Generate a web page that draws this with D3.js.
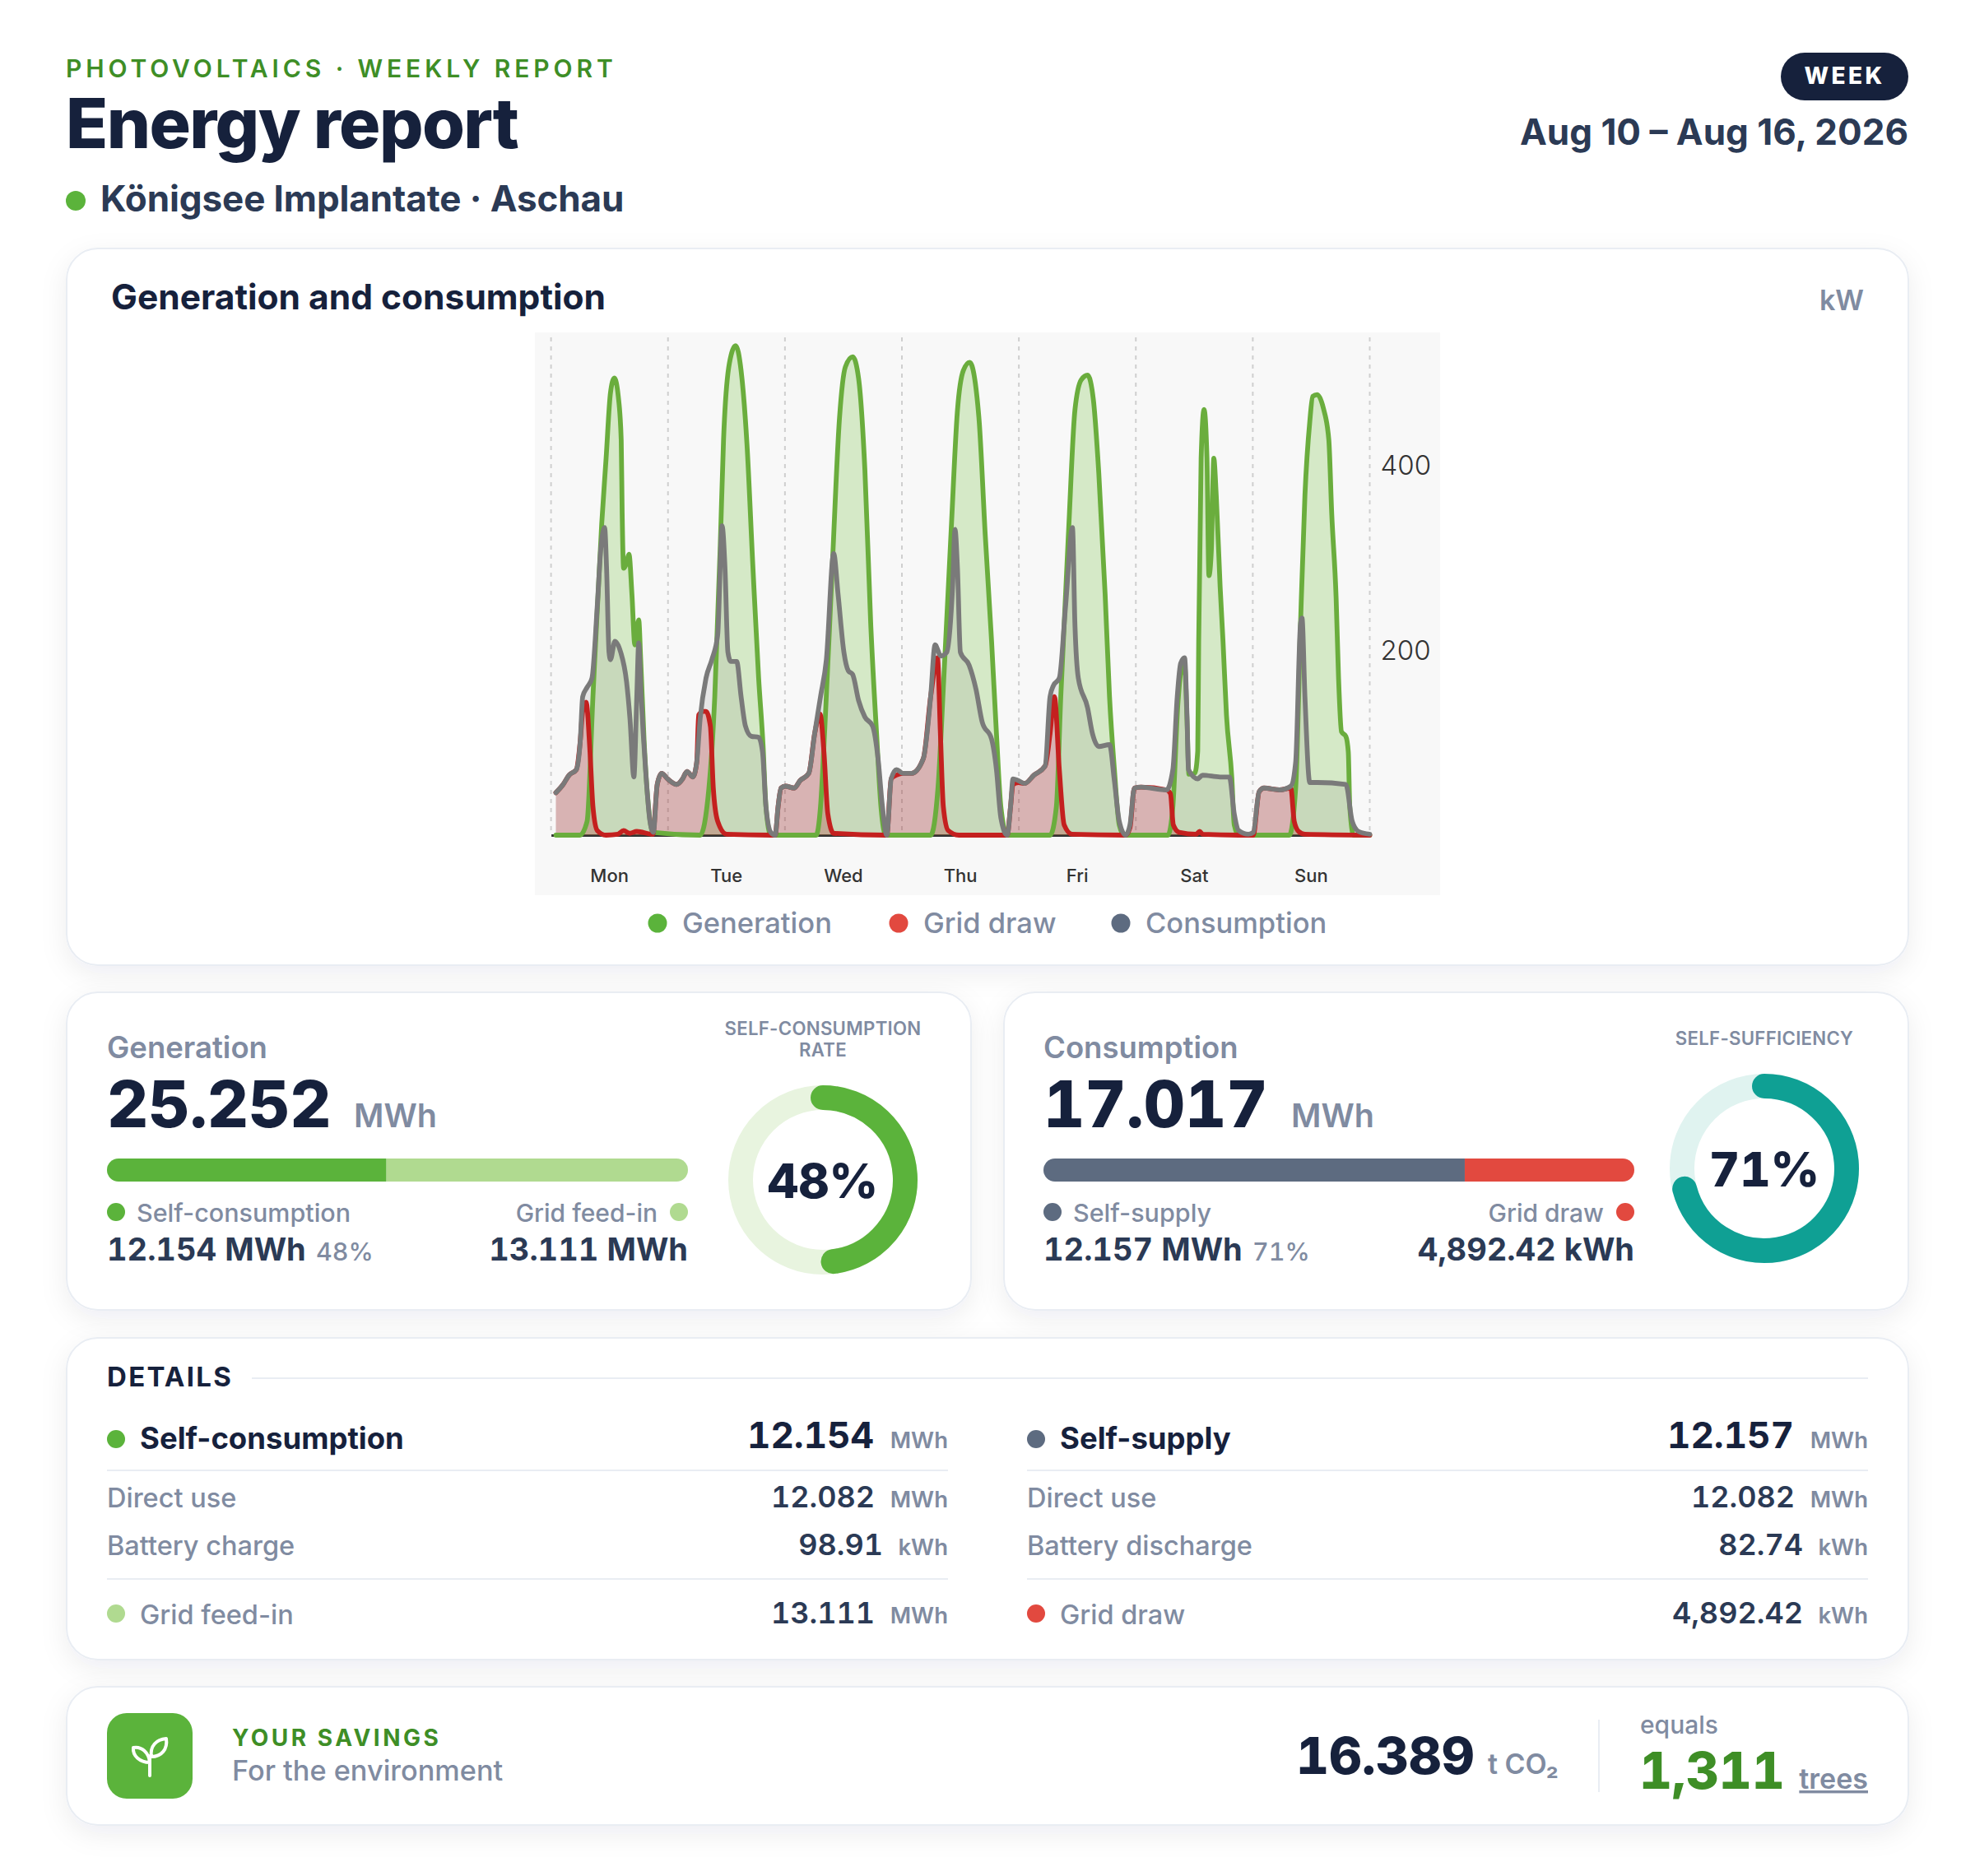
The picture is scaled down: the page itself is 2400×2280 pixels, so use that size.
<!DOCTYPE html>
<head>
<meta charset="utf-8">
<script src="https://d3js.org/d3.v7.min.js"></script>
<style>
  html, body { margin: 0; background: #fff; }
  svg { display: block; font-family: Inter, sans-serif; }
</style>
</head>
<body>
<svg width="2400" height="2280"></svg>
<script>

// hours since Monday 00:00
const genHours = [1,5.9,7.4,8.6,10.4,11.3,12.2,13,13.8,14.4,14.6,14.9,15.4,16,16.6,17.2,18,18.4,19.1,20,20.9,
  30.6,32.4,33.6,34.7,35.4,36.6,37.9,39,40.2,41.4,42.6,43.5,44.1,45.1,
  54.4,55.3,56.2,57.7,59.2,60.4,61.9,63.1,64.4,65.6,66.8,67.7,68.7,
  77.9,79.4,80.6,82.1,83.4,84.6,85.9,87.8,89.1,90.4,91.4,92.3,93.6,
  102.4,103.7,104.6,106.2,107.5,108.8,110.1,111.3,112.4,113.7,114.6,115.6,116.6,117.6,
  126.6,127.6,128.6,129.3,130,130.5,130.9,132.1,132.7,132.9,133.4,134,134.6,135,135.5,136,136.5,137.3,137.9,138.6,139.7,140.2,141.1,
  151.5,152.8,153.8,154.7,155.7,156.3,157.2,158.5,159.6,160.2,161.1,161.6,162.2,163.1,163.6,163.9,164.7,168];
const genKw = [0,0,15,150,337,408,479,495,475,428,348,289,293,304,261,206,233,190,102,31,3,
  0,51,150,309,428,511,530,503,424,293,170,98,31,0,
  0,31,118,289,452,507,518,495,396,229,110,31,0,
  0,51,170,329,460,503,512,452,325,210,110,31,0,
  0,31,150,329,460,493,498,471,392,261,150,71,11,0,
  0,31,140,178,185,125,66,67,91,209,408,461,408,281,309,408,368,269,209,130,62,11,0,
  0,51,229,368,448,475,477,462,428,348,257,170,112,107,90,31,0,0];

const drawHours = [1,2.5,3.7,5.2,6,6.5,7.2,8,8.6,9.5,11.3,13.7,14.9,16.1,17.6,20.9,
  21.8,22.7,23.9,25.8,27,27.9,29.1,29.9,30.3,31.2,31.8,32.7,33.3,34.2,36,45.1,46,
  46.6,47.2,48.1,49.9,51.1,52.9,54.1,55.2,56,56.8,58,68.7,68.9,
  69.8,70.9,72.2,74,76.4,77.9,79.3,79.9,80.5,81.5,83.7,93.6,
  94.3,94.8,95.9,97.2,99.1,101.4,102.4,103.3,104.3,105.3,106.9,117.9,
  118.8,119.7,121.1,126.3,127.1,127.7,128.9,132.4,133.1,133.7,141.1,144.1,
  145.3,146.3,149.5,151.8,152.5,153.4,154.7,168];
const drawKw = [46,55,65,71,102,134,144,90,31,5,0,1,5,2,4,1,
  55,67,61,55,61,69,63,79,130,134,134,118,51,15,1,0,0,
  31,51,53,51,59,67,110,131,90,23,2,0,0,
  61,65,67,67,83,150,192,110,31,5,0,0,
  31,55,57,56,65,75,110,150,71,11,1,0,
  8,51,52,49,45,11,3,1,4,1,0,0,
  47,51,49,51,15,4,1,0];

const useHours = [1,2.5,3.7,5.2,6,6.5,7.4,8.4,9.5,10.2,11,11.4,11.9,12.2,13.1,14.3,15.5,16.2,17,17.6,18,18.5,19.4,20.3,21,
  21.8,22.7,23.9,25.8,27,27.9,29.1,29.9,30.6,31.8,33,34.2,35.1,35.7,36.3,36.9,38.1,39,39.9,41.1,42.6,43.4,44.1,45.1,46,
  46.6,47.2,48.1,49.9,51.1,52.9,54.1,55.3,56.5,58,58.9,60.1,61,61.9,63.1,64.4,66,67.1,68,68.9,
  69.8,70.9,72.2,74,76.4,77.9,78.8,80,81.2,82.4,82.9,83.4,84,85.8,87.2,88.5,90.4,91.4,92.3,93.6,
  94.3,94.8,95.9,97.2,99.1,101.4,102.4,103.1,104.3,105.6,107,107.5,108.2,110.1,111.1,112.4,114.6,115.6,116.6,117.9,
  118.8,119.7,121.1,126.3,127.6,128.5,129.2,130,130.5,130.8,132.7,133.7,137.3,139.2,140.2,141.1,143.1,144.1,
  145.3,146.3,149.5,151.8,152.8,153.8,154.1,154.7,155.7,157.3,163.1,164.4,165.7,168];
const useKw = [46,55,65,71,102,150,160,170,249,309,333,289,198,190,210,198,166,126,63,150,208,150,71,15,3,
  55,67,61,55,61,69,63,79,126,170,190,217,335,289,198,188,188,150,118,107,106,90,31,3,0,
  31,51,53,51,59,67,110,150,190,305,261,198,178,174,146,128,118,83,31,0,
  61,71,67,67,83,150,206,194,198,269,331,289,198,184,158,122,104,71,19,0,
  31,61,59,56,65,75,150,162,170,249,333,229,170,138,110,96,98,59,15,0,
  11,51,52,49,71,150,186,192,130,71,61,65,63,63,23,5,1,3,
  47,51,49,53,79,229,235,150,57,57,55,15,4,1];

const days = ["Mon", "Tue", "Wed", "Thu", "Fri", "Sat", "Sun"];
const dayEdges = [0, 24, 48, 72, 96, 120, 144, 168];
const yTicks = [200, 400];

const chartLegend = ["Generation", "Grid draw", "Consumption"];
const genSplit = [12.154, 13.111];
const useSplit = [12.157, 4.89242];
const selfConsumptionRate = 48;
const selfSufficiency = 71;

const detailsLeft = [
  ["Self-consumption", "12.154", "MWh"],
  ["Direct use", "12.082", "MWh"],
  ["Battery charge", "98.91", "kWh"],
  ["Grid feed-in", "13.111", "MWh"]
];
const detailsRight = [
  ["Self-supply", "12.157", "MWh"],
  ["Direct use", "12.082", "MWh"],
  ["Battery discharge", "82.74", "kWh"],
  ["Grid draw", "4,892.42", "kWh"]
];

const navy = "#16213c", slate = "#2b3a55", muted = "#808ba1", border = "#e9edf3";
const green = "#5bb33b", lightGreen = "#b0da90", darkGreen = "#3e8e26";
const grey = "#5d6b80", red = "#e2493f", teal = "#0fa094";

let svg = d3.select("svg");

function txt(parent, x, y, s, size, weight, fill, anchor, spacing) {
  return parent.append("text")
    .attr("x", x).attr("y", y)
    .attr("font-size", size).attr("font-weight", weight)
    .attr("fill", fill)
    .attr("text-anchor", anchor || "start")
    .attr("letter-spacing", spacing || 0)
    .text(s);
}

// figures use tabular digits, the labels do not
function num(parent, x, y, s, size, weight, fill, anchor) {
  return txt(parent, x, y, s, size, weight, fill, anchor).style("font-variant-numeric", "tabular-nums");
}

function dot(parent, x, y, r, fill) {
  parent.append("circle").attr("cx", x).attr("cy", y).attr("r", r).attr("fill", fill);
}

let defs = svg.append("defs");
let shadow = defs.append("filter").attr("id", "shadow")
  .attr("x", "-10%").attr("y", "-20%").attr("width", "120%").attr("height", "150%");
shadow.append("feDropShadow")
  .attr("dx", 0).attr("dy", 10).attr("stdDeviation", 16)
  .attr("flood-color", "#1a2540").attr("flood-opacity", 0.07);

function card(x, y, w, h) {
  svg.append("rect")
    .attr("x", x).attr("y", y).attr("width", w).attr("height", h)
    .attr("rx", 38)
    .attr("fill", "#fff").attr("stroke", border).attr("stroke-width", 2)
    .attr("filter", "url(#shadow)");
}

// header
txt(svg, 80, 94, "PHOTOVOLTAICS · WEEKLY REPORT", 30, 600, darkGreen, "start", 4.9);
txt(svg, 80, 180, "Energy report", 84, 800, navy, "start", -1.6);
dot(svg, 92, 244, 12, green);
txt(svg, 122, 257, "Königsee Implantate · Aschau", 44, 700, slate, "start", -0.1);

svg.append("rect").attr("x", 2164).attr("y", 64).attr("width", 155).attr("height", 58).attr("rx", 29).attr("fill", navy);
txt(svg, 2241.5, 102, "WEEK", 28, 800, "#fff", "middle", 3.4);
txt(svg, 2319, 176, "Aug 10 – Aug 16, 2026", 44, 700, slate, "end");

// chart card
card(81, 302, 2238, 871);
txt(svg, 135, 376, "Generation and consumption", 42.5, 700, navy);
txt(svg, 2265, 377, "kW", 34, 600, muted, "end");

svg.append("rect").attr("x", 650).attr("y", 404).attr("width", 1100).attr("height", 684).attr("fill", "#f8f8f8");

let x = d3.scaleLinear().domain([0, 168]).range([669.6, 1664.5]);
let y = d3.scaleLinear().domain([0, 400]).range([1015, 566]);
let xDay = d3.scaleBand().domain(days).range([x(0), x(168)]);

let plot = svg.append("g");

plot.selectAll(".edge").data(dayEdges).enter().append("line")
  .attr("x1", d => x(d)).attr("x2", d => x(d))
  .attr("y1", 410).attr("y2", 1015)
  .attr("stroke", "#cfcfcf").attr("stroke-width", 2).attr("stroke-dasharray", "5 6");

let xAxis = plot.append("g")
  .attr("transform", "translate(0," + y(0) + ")")
  .call(d3.axisBottom(xDay).tickSize(0).tickPadding(41));
xAxis.select(".domain").attr("stroke", "#333").attr("stroke-width", 3);
xAxis.selectAll("text").attr("font-family", "Inter").attr("font-size", 22).attr("font-weight", 500).attr("fill", "#333");

let yAxis = plot.append("g")
  .attr("transform", "translate(" + x(168) + ",0)")
  .call(d3.axisRight(y).tickValues(yTicks).tickSize(0).tickPadding(13));
yAxis.select(".domain").remove();
yAxis.selectAll("text").attr("font-family", "Inter").attr("font-size", 33).attr("font-weight", 300).attr("fill", "#333").attr("dy", "0.32em");

function points(hours, kw) { return hours.map((h, i) => [h, kw[i]]); }

let area = d3.area().x(d => x(d[0])).y0(y(0)).y1(d => y(d[1])).curve(d3.curveMonotoneX);
let line = d3.line().x(d => x(d[0])).y(d => y(d[1])).curve(d3.curveMonotoneX);

let series = [
  { pts: points(genHours, genKw), fill: "rgba(118,192,66,0.27)", stroke: "#6aad3d" },
  { pts: points(drawHours, drawKw), fill: "rgba(190,30,30,0.27)", stroke: "#c4201f" },
  { pts: points(useHours, useKw), fill: "rgba(110,110,110,0.12)", stroke: "#7a7a7a" }
];

series.forEach(function(s) {
  plot.append("path").attr("d", area(s.pts)).attr("fill", s.fill);
});
series.forEach(function(s) {
  plot.append("path").attr("d", line(s.pts))
    .attr("fill", "none").attr("stroke", s.stroke)
    .attr("stroke-width", 5.8).attr("stroke-linejoin", "round").attr("stroke-linecap", "round");
});

// chart legend
let legendDots = [799, 1092, 1362];
let legendColors = [green, red, grey];
chartLegend.forEach(function(name, i) {
  dot(svg, legendDots[i], 1122, 11.5, legendColors[i]);
  txt(svg, legendDots[i] + 30, 1134, name, 34.5, 500, muted);
});

// the two summary cards
function summary(o) {
  card(o.left, 1206, 1099, 386);
  let g = svg.append("g");
  txt(g, o.x0, 1286, o.title, 36.5, 600, muted);
  num(g, o.x0, 1370, o.total, 78, 800, navy);
  txt(g, o.unitX, 1370, "MWh", 39.5, 600, muted);

  let bar = d3.scaleLinear().domain([0, o.split[0] + o.split[1]]).range([o.x0, o.x1]);
  let clipId = "clip" + o.left;
  defs.append("clipPath").attr("id", clipId).append("rect")
    .attr("x", o.x0).attr("y", 1408).attr("width", o.x1 - o.x0).attr("height", 28).attr("rx", 14);
  let bars = g.append("g").attr("clip-path", "url(#" + clipId + ")");
  bars.append("rect").attr("x", bar(0)).attr("y", 1408).attr("height", 28)
    .attr("width", bar(o.split[0]) - bar(0)).attr("fill", o.colors[0]);
  bars.append("rect").attr("x", bar(o.split[0])).attr("y", 1408).attr("height", 28)
    .attr("width", bar(o.split[0] + o.split[1]) - bar(o.split[0])).attr("fill", o.colors[1]);

  dot(g, o.x0 + 11, 1473, 11, o.colors[0]);
  txt(g, o.x0 + 36, 1485, o.leftName, 30.5, 500, muted);
  dot(g, o.x1 - 11, 1473, 11, o.colors[1]);
  txt(g, o.x1 - 37, 1485, o.rightName, 30, 500, muted, "end");

  num(g, o.x0, 1532, o.leftValue, 38, 700, slate);
  num(g, o.pctX, 1532, o.pct + "%", 30.5, 500, muted);
  num(g, o.x1, 1532, o.rightValue, 38, 700, slate, "end");

  o.gaugeTitle.forEach(function(t, i) {
    txt(g, o.cx, o.titleY + i * 26, t, 22.2, 600, muted, "middle", 0.3);
  });
  let ring = g.append("g").attr("transform", "translate(" + o.cx + "," + o.cy + ")");
  ring.append("circle").attr("r", 100).attr("fill", "none").attr("stroke", o.track).attr("stroke-width", 30);
  let start = -Math.PI / 2;
  let arc = d3.path();
  arc.arc(0, 0, 100, start, start + 2 * Math.PI * o.pct / 100);
  ring.append("path").attr("d", arc.toString()).attr("fill", "none")
    .attr("stroke", o.ringColor).attr("stroke-width", 30).attr("stroke-linecap", "round");
  num(g, o.cx, o.cy + 22, o.pct + "%", 58, 800, navy, "middle");
}

summary({
  left: 81, x0: 130, x1: 836, unitX: 430, pctX: 384, title: "Generation", total: "25.252",
  split: genSplit, colors: [green, lightGreen],
  leftName: "Self-consumption", rightName: "Grid feed-in",
  leftValue: "12.154 MWh", rightValue: "13.111 MWh", pct: selfConsumptionRate,
  gaugeTitle: ["SELF-CONSUMPTION", "RATE"], titleY: 1258,
  cx: 1000, cy: 1434, track: "#e8f4df", ringColor: green
});
summary({
  left: 1220, x0: 1268, x1: 1986, unitX: 1569, pctX: 1522, title: "Consumption", total: "17.017",
  split: useSplit, colors: [grey, red],
  leftName: "Self-supply", rightName: "Grid draw",
  leftValue: "12.157 MWh", rightValue: "4,892.42 kWh", pct: selfSufficiency,
  gaugeTitle: ["SELF-SUFFICIENCY"], titleY: 1270,
  cx: 2144, cy: 1420, track: "#e0f3f0", ringColor: teal
});

// details
card(81, 1626, 2238, 391);
txt(svg, 130, 1685, "DETAILS", 33, 700, navy, "start", 2.3);
svg.append("line").attr("x1", 306).attr("x2", 2270).attr("y1", 1675).attr("y2", 1675).attr("stroke", border).attr("stroke-width", 2);

function detailColumn(rows, x0, x1, headColor, lastColor) {
  let g = svg.append("g");
  let unitWidth = { MWh: 72, kWh: 62 };
  // heading row
  dot(g, x0 + 11, 1749, 11, headColor);
  txt(g, x0 + 40, 1760.5, rows[0][0], 36.5, 700, navy);
  num(g, x1 - unitWidth.MWh - 18, 1760, rows[0][1], 44, 700, navy, "end");
  txt(g, x1, 1760, rows[0][2], 27.5, 600, muted, "end");
  g.append("line").attr("x1", x0).attr("x2", x1).attr("y1", 1787).attr("y2", 1787).attr("stroke", border).attr("stroke-width", 2);
  // two plain rows
  [1832, 1890].forEach(function(by, i) {
    let r = rows[i + 1];
    txt(g, x0, by, r[0], 32.5, 500, muted);
    num(g, x1 - unitWidth[r[2]] - 17, by, r[1], 36, 600, slate, "end");
    txt(g, x1, by, r[2], 27.5, 600, muted, "end");
  });
  g.append("line").attr("x1", x0).attr("x2", x1).attr("y1", 1919).attr("y2", 1919).attr("stroke", border).attr("stroke-width", 2);
  // last row
  let r = rows[3];
  dot(g, x0 + 11, 1961, 11, lastColor);
  txt(g, x0 + 40, 1974, r[0], 32.5, 500, muted);
  num(g, x1 - unitWidth[r[2]] - 17, 1973, r[1], 36, 600, slate, "end");
  txt(g, x1, 1973, r[2], 27.5, 600, muted, "end");
}
detailColumn(detailsLeft, 130, 1152, green, lightGreen);
detailColumn(detailsRight, 1248, 2270, grey, red);

// savings
card(81, 2050, 2238, 168);
svg.append("rect").attr("x", 130).attr("y", 2082).attr("width", 104).attr("height", 104).attr("rx", 24).attr("fill", green);
svg.append("path")
  .attr("d", "M182 2158V2134M182 2142C170 2142 161 2134 162 2124C172 2122 181 2130 182 2142ZM184 2135C182 2122 190 2114 202 2113C204 2126 196 2135 184 2135Z")
  .attr("fill", "none").attr("stroke", "#fff").attr("stroke-width", 4).attr("stroke-linecap", "round").attr("stroke-linejoin", "round");
txt(svg, 282, 2122, "YOUR SAVINGS", 28, 700, darkGreen, "start", 3.5);
txt(svg, 282, 2164, "For the environment", 34.3, 500, muted);

num(svg, 1575, 2156, "16.389", 62, 800, navy);
txt(svg, 1808, 2156, "t CO₂", 34, 600, muted);
svg.append("line").attr("x1", 1943).attr("x2", 1943).attr("y1", 2090).attr("y2", 2178).attr("stroke", border).attr("stroke-width", 2);
txt(svg, 1993, 2107, "equals", 30, 500, muted);
num(svg, 1992, 2174, "1,311", 62, 800, darkGreen);
txt(svg, 2270, 2174, "trees", 34, 600, muted, "end").attr("text-decoration", "underline");

</script>
</body>
